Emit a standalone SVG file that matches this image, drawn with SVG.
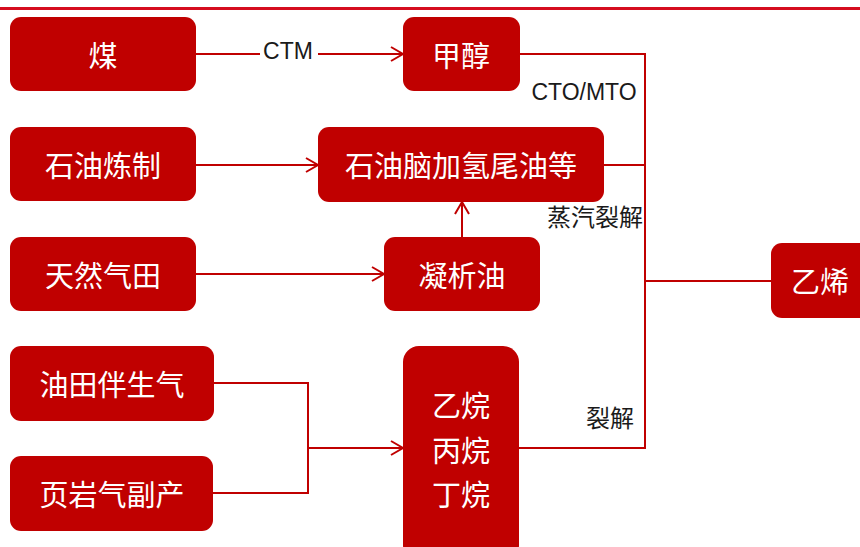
<svg xmlns="http://www.w3.org/2000/svg" width="860" height="547" viewBox="0 0 860 547">
  <defs>
    <marker id="arr" markerUnits="userSpaceOnUse" markerWidth="16" markerHeight="18" viewBox="0 0 16 18" refX="14" refY="9" orient="auto">
      <path d="M2,2 L14,9 L2,16" fill="none" stroke="#c00000" stroke-width="2"/>
    </marker>
  </defs>
  <style>
    .node rect { fill: #c00000; }
    .node text { fill: #ffffff; font-family: "Noto Sans CJK SC", "Liberation Sans", sans-serif; font-size: 29px; text-anchor: middle; dominant-baseline: central; }
    .conn { fill: none; stroke: #c00000; stroke-width: 2; }
    .lbl { fill: #1a1a1a; font-family: "Liberation Sans", "Noto Sans CJK SC", sans-serif; font-size: 23px; dominant-baseline: central; }
    .lblc { fill: #1a1a1a; font-family: "Noto Sans CJK SC", sans-serif; font-size: 24px; dominant-baseline: central; }
  </style>
  <rect x="0" y="7" width="860" height="3" fill="#d50d1f"/>

  <g id="connectors">
    <line class="conn" x1="196" y1="54" x2="260" y2="54"/>
    <line class="conn" x1="318" y1="54" x2="403" y2="54" marker-end="url(#arr)"/>
    <polyline class="conn" points="520,54 645,54 645,448 519,448"/>
    <line class="conn" x1="604" y1="165" x2="645" y2="165"/>
    <line class="conn" x1="645" y1="281" x2="771" y2="281"/>
    <line class="conn" x1="196" y1="165" x2="318" y2="165" marker-end="url(#arr)"/>
    <line class="conn" x1="196" y1="274" x2="384" y2="274" marker-end="url(#arr)"/>
    <line class="conn" x1="462" y1="237" x2="462" y2="202" marker-end="url(#arr)"/>
    <polyline class="conn" points="214,383 308,383 308,493 213,493"/>
    <line class="conn" x1="308" y1="448" x2="403" y2="448" marker-end="url(#arr)"/>
    <text class="lbl" x="288" y="51" text-anchor="middle">CTM</text>
    <text class="lbl" x="584" y="92" text-anchor="middle">CTO/MTO</text>
    <text class="lblc" x="595" y="215" text-anchor="middle">蒸汽裂解</text>
    <text class="lblc" x="610" y="416" text-anchor="middle">裂解</text>
  </g>

  <g id="n-coal" class="node"><rect x="10" y="17" width="186" height="74" rx="11"/><text x="103" y="54">煤</text></g>
  <g id="n-methanol" class="node"><rect x="403" y="17" width="117" height="74" rx="11"/><text x="461" y="54">甲醇</text></g>
  <g id="n-refine" class="node"><rect x="10" y="127" width="186" height="74" rx="11"/><text x="103" y="164">石油炼制</text></g>
  <g id="n-naphtha" class="node"><rect x="318" y="127" width="286" height="75" rx="11"/><text x="461" y="164">石油脑加氢尾油等</text></g>
  <g id="n-gasfield" class="node"><rect x="10" y="237" width="186" height="74" rx="11"/><text x="103" y="274">天然气田</text></g>
  <g id="n-condensate" class="node"><rect x="384" y="237" width="156" height="74" rx="11"/><text x="462" y="274">凝析油</text></g>
  <g id="n-assoc" class="node"><rect x="10" y="346" width="204" height="75" rx="11"/><text x="112" y="383">油田伴生气</text></g>
  <g id="n-shale" class="node"><rect x="10" y="456" width="203" height="75" rx="11"/><text x="112" y="493">页岩气副产</text></g>
  <g id="n-alkanes" class="node"><rect x="403" y="346" width="116" height="215" rx="16"/>
    <text x="461" y="404">乙烷</text><text x="461" y="449">丙烷</text><text x="461" y="493">丁烷</text></g>
  <g id="n-ethylene" class="node"><rect x="771" y="243" width="110" height="75" rx="11"/><text x="820" y="280">乙烯</text></g>
</svg>
